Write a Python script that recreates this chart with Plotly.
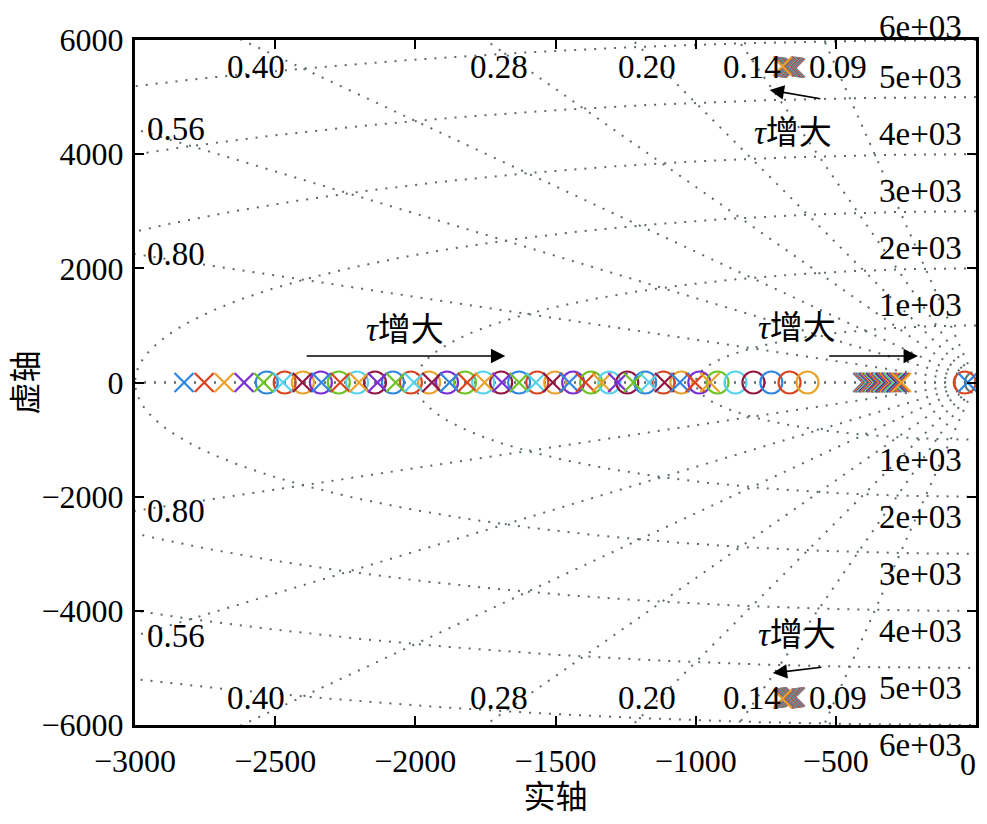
import numpy as np
import plotly.graph_objects as go

# pole / zero data for the 31 tau values
polo_esq = [-2825, -2753, -2682, -2611, -2541, -2472, -2403, -2335, -2268, -2201, -2135,
            -2070, -2005, -1941, -1878, -1815, -1753, -1691, -1630, -1570, -1510, -1451,
            -1393, -1335, -1278, -1222, -1166, -1111, -1056, -1002, -949]
zeros_eixo = [-2530, -2466, -2401, -2337, -2273, -2208, -2144, -2080, -2016, -1951, -1887,
              -1823, -1758, -1694, -1630, -1565, -1501, -1437, -1373, -1308, -1244, -1180,
              -1115, -1051, -987, -922, -858, -794, -730, -665, -601]
polo_meio = [-404, -401, -398, -395, -391, -388, -384, -381, -377, -373, -369, -365, -361,
             -357, -352, -348, -343, -339, -334, -329, -324, -318, -313, -307, -302, -296,
             -290, -284, -278, -272, -266]
polo_cpx_re = [-645, -646, -648, -649, -651, -652, -654, -655, -657, -658, -660, -661, -663,
               -664, -666, -667, -669, -670, -672, -673, -675, -676, -678, -679, -681, -682,
               -684, -685, -687, -688, -690]
polo_cpx_im = [5510, 5511, 5512, 5513, 5514, 5515, 5516, 5517, 5518, 5519, 5520, 5521, 5522,
               5523, 5524, 5525, 5526, 5527, 5528, 5529, 5530, 5531, 5532, 5533, 5534, 5535,
               5536, 5537, 5538, 5539, 5540]
zero_origem = -40
polo_origem = -30

# grid (sgrid) values
zetas = [0.09, 0.14, 0.20, 0.28, 0.40, 0.56, 0.80]
wns = [1000, 2000, 3000, 4000, 5000, 6000]
wn_labels = ['1e+03', '2e+03', '3e+03', '4e+03', '5e+03', '6e+03']

# axis ticks (the "0" at the right edge is written as an annotation so it is not cut)
x_ticks = [-3000, -2500, -2000, -1500, -1000, -500, 0]
x_ticklabels = ['−3000', '−2500', '−2000', '−1500', '−1000', '−500', '']
y_ticks = [-6000, -4000, -2000, 0, 2000, 4000, 6000]

cores = ['#2f86e0', '#d9441f', '#e9a22a', '#7a2ed6', '#6cc324', '#55d3ee', '#931744']
XMIN, XMAX, YMIN, YMAX = -3000, 0, -6000, 6000
grid_cor = '#5a6a6a'
serif = 'Liberation Serif, Times New Roman, Noto Sans CJK SC, serif'

fig = go.Figure()

# damping rays
for z in zetas + [1.0]:
    t = np.linspace(0, 8000, 200)
    s = np.sqrt(1 - z ** 2)
    for sg in (1, -1):
        fig.add_trace(go.Scatter(x=-z * t, y=sg * s * t, mode='lines',
                                 line=dict(color=grid_cor, width=2, dash='2px,8px'),
                                 hoverinfo='skip', showlegend=False))
# natural frequency circles
th = np.linspace(np.pi / 2, 3 * np.pi / 2, 800)
for r in wns:
    fig.add_trace(go.Scatter(x=r * np.cos(th), y=r * np.sin(th), mode='lines',
                             line=dict(color=grid_cor, width=2, dash='2px,8px'),
                             hoverinfo='skip', showlegend=False))

# poles and zeros
for i in range(len(polo_esq)):
    c = cores[i % len(cores)]
    fig.add_trace(go.Scatter(
        x=[polo_esq[i], polo_meio[i], polo_cpx_re[i], polo_cpx_re[i]],
        y=[0, 0, polo_cpx_im[i], -polo_cpx_im[i]],
        mode='markers', showlegend=False,
        marker=dict(symbol='x-thin-open', size=19, color=c, line=dict(color=c, width=2.2))))
    fig.add_trace(go.Scatter(
        x=[zeros_eixo[i]], y=[0], mode='markers', showlegend=False,
        marker=dict(symbol='circle-open', size=22, color=c, line=dict(color=c, width=2.2))))

fig.add_trace(go.Scatter(x=[zero_origem], y=[0], mode='markers', showlegend=False,
                         marker=dict(symbol='circle-open', size=22, color=cores[1],
                                     line=dict(color=cores[1], width=2.2))))
fig.add_trace(go.Scatter(x=[polo_origem], y=[0], mode='markers', showlegend=False,
                         marker=dict(symbol='x-thin-open', size=19, color=cores[0],
                                     line=dict(color=cores[0], width=2.2))))

anots = []
# damping labels
for z in zetas:
    s = np.sqrt(1 - z ** 2)
    t_top = YMAX / s
    t_left = -XMIN / z
    for sg in (1, -1):
        if t_top < t_left:
            anots.append(dict(x=-z * t_top, y=sg * YMAX, text=f'{z:.2f}', showarrow=False,
                              xanchor='center', xshift=14,
                              yanchor='top' if sg > 0 else 'bottom', yshift=-7 * sg))
        else:
            anots.append(dict(x=XMIN, y=sg * s * t_left, text=f'{z:.2f}', showarrow=False,
                              xanchor='left', xshift=10, yanchor='middle'))
# frequency labels (the top one is nudged down so it stays inside the page)
for r, lab in zip(wns, wn_labels):
    ys = -7 if r == YMAX else 0
    anots.append(dict(x=0, y=r, text=lab, showarrow=False, xanchor='right', xshift=-12,
                      yanchor='bottom', yshift=ys))
    anots.append(dict(x=0, y=-r, text=lab, showarrow=False, xanchor='right', xshift=-12,
                      yanchor='top', yshift=0))

# "tau increases" arrows and texts
setas = [(-1679, 464, -2393, 464), (-207, 464, -529, 464),
         (-736, 5124, -550, 4966), (-725, -5090, -546, -4985)]
for x1, y1, x0, y0 in setas:
    anots.append(dict(x=x1, y=y1, ax=x0, ay=y0, axref='x', ayref='y', text='',
                      showarrow=True, arrowhead=2, arrowsize=1.8, arrowwidth=1.6,
                      arrowcolor='black'))
textos_tau = [(-2036, 920), (-639, 955), (-654, 4370), (-639, -4424)]
for x, y in textos_tau:
    anots.append(dict(x=x, y=y, text='<i>τ</i>增大', showarrow=False,
                      xanchor='center', yanchor='middle'))

for a in anots:
    a.setdefault('font', dict(family=serif, size=33, color='black'))
    a.setdefault('xref', 'x')
    a.setdefault('yref', 'y')

# x tick label "0", kept inside the page
anots.append(dict(x=0, xref='x', y=0, yref='paper', text='0', showarrow=False,
                  xanchor='right', xshift=2, yanchor='top', yshift=-19,
                  font=dict(family=serif, size=32, color='black')))

# page body has an 8px margin, so the figure is a bit smaller than the window
fig.update_layout(
    width=971, height=808,
    margin=dict(l=127, r=3, t=32, b=91),
    paper_bgcolor='white', plot_bgcolor='white',
    font=dict(family=serif, size=32, color='black'),
    annotations=anots,
    xaxis=dict(range=[XMIN, XMAX], tickvals=x_ticks, ticktext=x_ticklabels,
               ticks='inside', ticklen=9, tickwidth=2, tickcolor='black',
               showline=True, linewidth=3, linecolor='black', mirror='ticks',
               showgrid=False, zeroline=False, ticklabelstandoff=6, automargin=False,
               title=dict(text='实轴', font=dict(size=32), standoff=8)),
    yaxis=dict(range=[YMIN, YMAX], tickvals=y_ticks,
               ticks='inside', ticklen=9, tickwidth=2, tickcolor='black',
               showline=True, linewidth=3, linecolor='black', mirror='ticks',
               showgrid=False, zeroline=False, ticklabelstandoff=2, automargin=False,
               title=dict(text='虚轴', font=dict(size=32), standoff=2)),
)

fig.write_html('out.html')
